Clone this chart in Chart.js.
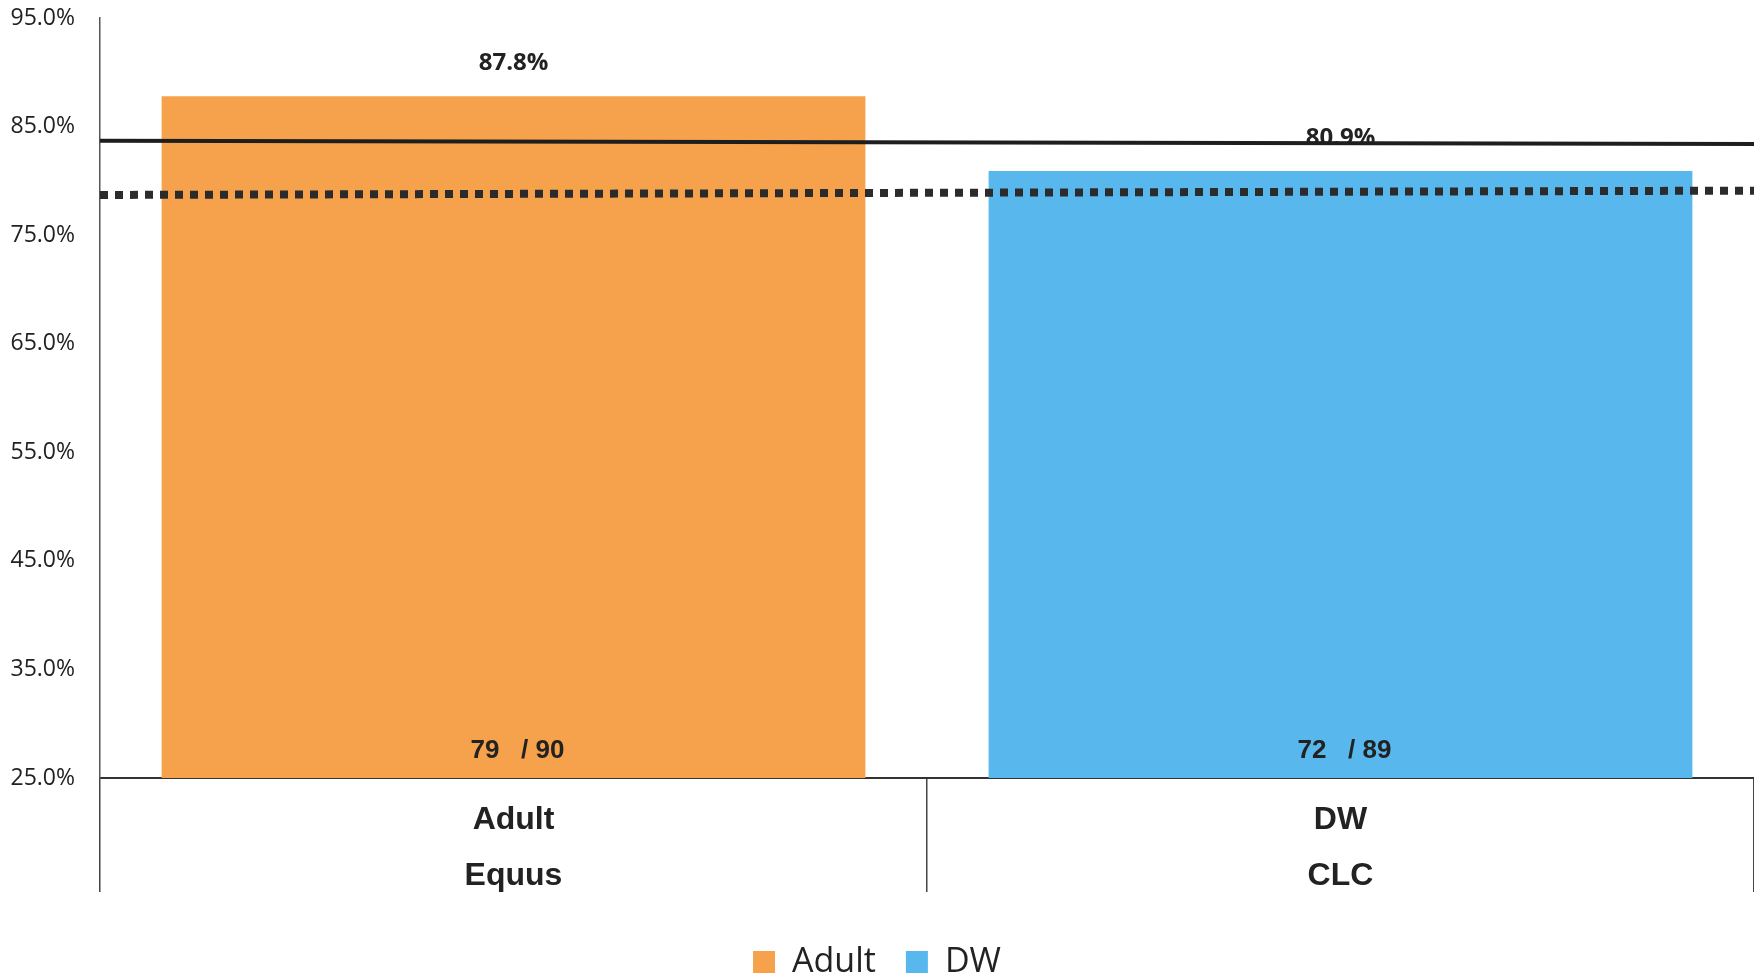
<!DOCTYPE html>
<html>
<head>
<meta charset="utf-8">
<script src="https://cdn.jsdelivr.net/npm/chart.js@4.4.1/dist/chart.umd.min.js"></script>
<style>
  html, body { margin: 0; padding: 0; background: #fff; }
  #wrap { width: 1754px; height: 974px; }
</style>
</head>
<body>
<div id="wrap"><canvas id="chart" width="1754" height="974"></canvas></div>
<script>
const categories = [['Adult', 'Equus'], ['DW', 'CLC']]
const seriesNames = ['Adult', 'DW']
const rates = [87.8, 80.9]
const passed = [79, 72]
const totals = [90, 89]
// reference lines, value at the left end and at the right end (scan is a bit tilted)
const solidLine = [83.7, 83.4]
const dottedLine = [78.7, 79.1]
const yMin = 25
const yMax = 95
const yStep = 10

const barColors = ['#f6a24c', '#58b8ee']

Chart.defaults.font.family = '"Open Sans", sans-serif'
Chart.defaults.color = '#222'

// labels above the bars and the count inside at the bottom
const barLabels = {
  id: 'barLabels',
  afterDatasetDraw(chart, args) {
    if (args.meta.type !== 'bar') return
    const ctx = chart.ctx
    const values = chart.data.datasets[args.index].data
    const bottom = chart.scales.y.getPixelForValue(yMin)
    args.meta.data.forEach((bar, i) => {
      if (values[i] == null) return
      ctx.save()
      ctx.fillStyle = '#222'
      ctx.textAlign = 'center'
      ctx.textBaseline = 'middle'
      ctx.font = 'bold 24px "Open Sans"'
      ctx.fillText(values[i].toFixed(1) + '%', bar.x, bar.y - 33)
      ctx.font = 'bold 26px "Liberation Sans Narrow", "Liberation Sans"'
      ctx.fillText(passed[i] + '   / ' + totals[i], bar.x + 4, bottom - 27)
      ctx.restore()
    })
  }
}

const datasets = seriesNames.map((name, i) => ({
  type: 'bar',
  label: name,
  data: rates.map((r, j) => (j === i ? r : null)),
  backgroundColor: barColors[i],
  borderWidth: 0,
  grouped: false,
  barPercentage: 0.851,
  categoryPercentage: 1,
  order: 1
}))

datasets.push({
  type: 'line',
  label: 'solid',
  xAxisID: 'xLine',
  data: [{ x: 0, y: solidLine[0] }, { x: 1, y: solidLine[1] }],
  borderColor: '#1e1e1e',
  borderWidth: 4,
  pointRadius: 0,
  order: 0
})
datasets.push({
  type: 'line',
  label: 'dotted',
  xAxisID: 'xLine',
  data: [{ x: 0, y: dottedLine[0] }, { x: 1, y: dottedLine[1] }],
  borderColor: '#2b2b2b',
  borderWidth: 8,
  borderDash: [8, 7],
  borderCapStyle: 'butt',
  pointRadius: 0,
  order: 0
})

const ctx = document.getElementById('chart').getContext('2d')
new Chart(ctx, {
  data: { labels: categories, datasets },
  plugins: [barLabels],
  options: {
    responsive: false,
    animation: false,
    devicePixelRatio: 1,
    layout: { padding: { top: 18, left: 0, right: 0, bottom: -15 } },
    scales: {
      x: {
        type: 'category',
        offset: true,
        grid: {
          display: true,
          offset: true,
          drawOnChartArea: false,
          drawTicks: true,
          tickLength: 114,
          color: '#444',
          lineWidth: 1.5
        },
        border: { display: true, color: '#333', width: 2 },
        ticks: {
          padding: -100,
          maxRotation: 0,
          color: '#222',
          font: { family: '"Liberation Sans", Arial, sans-serif', size: 32, weight: 'bold', lineHeight: 1.75 }
        },
        afterFit(scale) { scale.height = 137 }
      },
      xLine: { type: 'linear', display: false, min: 0, max: 1 },
      y: {
        min: yMin,
        max: yMax,
        // tick marks are not drawn, their length only sets the gap before the labels
        grid: { display: false, drawTicks: true, tickLength: 25 },
        border: { display: true, color: '#555', width: 1.5 },
        ticks: {
          stepSize: yStep,
          padding: 0,
          color: '#222',
          font: { size: 23 },
          callback: v => v.toFixed(1) + '%'
        },
        afterFit(scale) { scale.width = 100 }
      }
    },
    plugins: {
      tooltip: { enabled: false },
      legend: {
        position: 'bottom',
        labels: {
          filter: item => item.datasetIndex < seriesNames.length,
          boxWidth: 22,
          boxHeight: 22,
          padding: 30,
          color: '#222',
          font: { size: 34 }
        }
      }
    }
  }
})
</script>
</body>
</html>
